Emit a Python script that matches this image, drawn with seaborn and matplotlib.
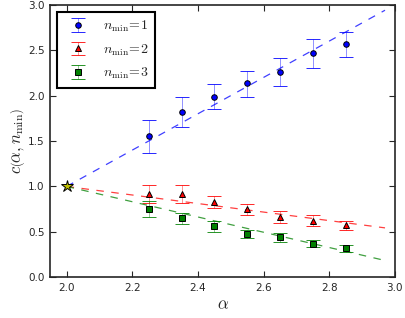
import numpy as np
import pandas as pd
import seaborn as sns
import matplotlib
matplotlib.use("Agg")
import matplotlib.pyplot as plt

# measured points: alpha, c and error bar ends
alpha = [2.25, 2.35, 2.45, 2.55, 2.65, 2.75, 2.85]

c1 = [1.55, 1.82, 1.99, 2.135, 2.26, 2.47, 2.57]
c1_lo = [1.37, 1.65, 1.85, 1.99, 2.11, 2.30, 2.43]
c1_hi = [1.73, 1.99, 2.13, 2.27, 2.41, 2.62, 2.70]

c2 = [0.92, 0.92, 0.83, 0.75, 0.665, 0.625, 0.58]
c2_lo = [0.82, 0.82, 0.76, 0.69, 0.60, 0.565, 0.525]
c2_hi = [1.02, 1.02, 0.90, 0.81, 0.735, 0.69, 0.625]

c3 = [0.75, 0.65, 0.56, 0.48, 0.44, 0.37, 0.32]
c3_lo = [0.66, 0.59, 0.50, 0.43, 0.39, 0.33, 0.28]
c3_hi = [0.84, 0.71, 0.62, 0.525, 0.49, 0.415, 0.355]

# dashed guide lines, given by their end points
line_alpha = [2.0, 2.97]
line1 = [1.0, 2.94]
line2 = [1.0, 0.544]
line3 = [1.0, 0.185]

star_alpha = [2.0]
star_c = [1.0]

sns.set_style("ticks")
plt.rcParams['font.family'] = ['DejaVu Sans']
plt.rcParams['mathtext.fontset'] = 'cm'
plt.rcParams['font.size'] = 7.5

fig = plt.figure(figsize=(4.05, 3.18), dpi=100)
ax = fig.add_axes([0.124, 0.128, 0.851, 0.857])

series = [
    (c1, c1_lo, c1_hi, line1, 'b', 'o', r'$n_{\min}\!=\!1$'),
    (c2, c2_lo, c2_hi, line2, 'r', '^', r'$n_{\min}\!=\!2$'),
    (c3, c3_lo, c3_hi, line3, 'g', 's', r'$n_{\min}\!=\!3$'),
]

for c, lo, hi, line, col, mk, lab in series:
    df = pd.DataFrame({'alpha': line_alpha, 'c': line})
    sns.lineplot(data=df, x='alpha', y='c', ax=ax, color=col, lw=0.9,
                 linestyle=(0, (6, 6)), alpha=0.75, legend=False)
    yerr = [np.array(c) - np.array(lo), np.array(hi) - np.array(c)]
    eb = ax.errorbar(alpha, c, yerr=yerr, fmt=mk, color=col, mfc=col, mec='k',
                     ms=4, mew=0.7, ecolor=col, elinewidth=0.6, capsize=5,
                     capthick=0.9, label=lab)
    eb[2][0].set_alpha(0.5)
    for cap in eb[1]:
        cap.set_markeredgecolor(col)
        cap.set_alpha(0.85)

ax.plot(star_alpha, star_c, marker='*', ms=9, mfc='y', mec='k', mew=0.7,
        ls='none', zorder=5)

ax.set_xlim(1.95, 3.0)
ax.set_ylim(0.0, 3.0)
ax.set_xticks([2.0, 2.2, 2.4, 2.6, 2.8, 3.0])
ax.set_yticks([0.0, 0.5, 1.0, 1.5, 2.0, 2.5, 3.0])
ax.tick_params(direction='in', top=True, right=True, length=4, width=0.8,
               labelsize=7.5, pad=4)
for s in ax.spines.values():
    s.set_linewidth(1.2)

ax.set_xlabel(r'$\alpha$', fontsize=12, labelpad=2)
ax.set_ylabel(r'$c\left(\alpha,n_{\min}\right)$', fontsize=12, labelpad=1)

leg = ax.legend(loc='upper left', numpoints=1, fontsize=10, fancybox=False,
                framealpha=1, edgecolor='k', borderaxespad=0.5,
                handletextpad=0.8, labelspacing=0.6, borderpad=0.5)
leg.get_frame().set_linewidth(1.5)

fig.savefig('out.png', dpi=100)
